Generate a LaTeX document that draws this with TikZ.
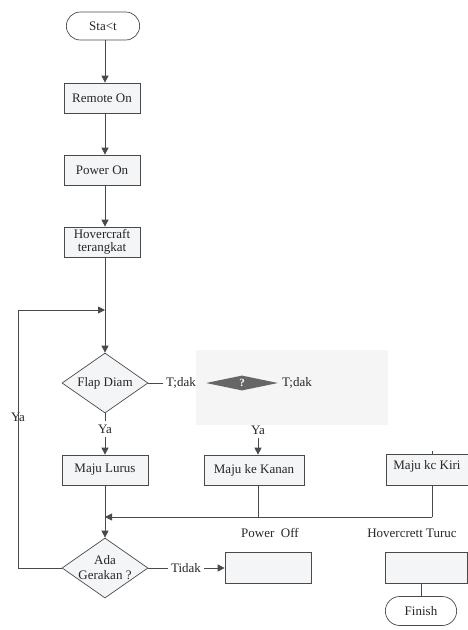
\documentclass[tikz,border=0pt]{standalone}
\usepackage{fontspec}
\setmainfont{Liberation Serif}
\usetikzlibrary{shapes.geometric,shapes.misc,arrows.meta}
\definecolor{ln}{HTML}{4A4A4A}
\definecolor{bx}{HTML}{F4F5F7}
\begin{document}
\begin{tikzpicture}[x=1pt,y=-1pt,
  every node/.style={font=\fontsize{13}{14}\selectfont,text=black!85},
  proc/.style={draw=ln,fill=bx,line width=0.7pt,minimum height=30pt,inner sep=1pt,align=center},
  term/.style={draw=ln,fill=white,line width=0.7pt,rounded rectangle,minimum height=28pt,minimum width=80pt},
  dec/.style={draw=ln,fill=bx,line width=0.7pt,diamond,aspect=1.42,minimum width=86pt,minimum height=60pt,inner sep=0pt},
  lab/.style={font=\fontsize{13}{14}\selectfont},
  conn/.style={draw=ln,line width=0.8pt},
  arr/.style={conn,-{Triangle[length=7pt,width=7pt]}}]
\useasboundingbox (0,0) rectangle (467,630);
% background patch
\fill[black!4] (196,350) rectangle (388,425);
% nodes
\node[term] (start) at (103,26) {Sta<t};
\node[proc,minimum width=76pt] (remote) at (102,98) {Remote On};
\node[proc,minimum width=76pt] (power) at (102,170) {Power On};
\node[proc,minimum width=76pt,minimum height=30pt,inner sep=0pt,font=\fontsize{13}{13}\selectfont] (hover) at (102,242) {Hovercraft\\terangkat};
\coordinate (join1) at (105,310);
\node[dec] (flap) at (105,383) {};
\node (flaptxt) at (flap) {Flap Diam};
\node[lab] (tdak1) at (181,383) {T;dak};
\node[diamond,fill=black!60,aspect=5,minimum width=72pt,minimum height=15pt,inner sep=0pt,font=\fontsize{11}{11}\selectfont\bfseries,text=white] (q) at (242,383) {?};
\node[lab] (tdak2) at (297,383) {T;dak};
\node[lab] (ya0) at (18,417) {Ya};
\node[lab] (ya1) at (105,429) {Ya};
\node[lab] (ya2) at (258,430) {Ya};
\node[proc,minimum width=86pt] (lurus) at (105,470) {Maju Lurus};
\node[proc,minimum width=100pt] (kanan) at (254,470) {Maju ke Kanan};
\node[proc,minimum width=82pt,minimum height=31pt,text depth=11pt] (kiri) at (427,470) {Maju kc Kiri};
\coordinate (m2) at (258,517);
\coordinate (m3) at (432,517);
\coordinate (m1) at (105,517);
\node[lab] (poff) at (270,533) {Power\enspace Off};
\node[lab] (hturun) at (412,533) {Hovercrett Turuc};
\node[dec] (ada) at (105,568) {};
\node[align=center,font=\fontsize{13}{15}\selectfont] (adatxt) at (ada) {Ada\\Gerakan ?};
\node[lab] (tidak) at (186,568) {Tidak};
\node[proc,minimum width=86pt,minimum height=31pt] (pbox) at (268,568) {};
\node[proc,minimum width=82pt,minimum height=31pt] (hbox) at (426,568) {};
\node[term,minimum width=78pt,minimum height=29pt] (finish) at (421,611) {Finish};
\coordinate (c1) at (18,568);
\coordinate (c2) at (18,310);
% connectors
\draw[arr] (start.south -| join1) -- (remote.north -| join1);
\draw[arr] (remote.south -| join1) -- (power.north -| join1);
\draw[arr] (power.south -| join1) -- (hover.north -| join1);
\draw[arr] (hover.south -| flap.north) -- (flap.north);
\draw[arr] (c2) -- (join1);
\draw[conn] (flap.east) -- (tdak1.west);
\draw[arr] (flap.south) -- (ya1.north) (ya1.south) -- (lurus.north);
\draw[arr] (ya2.south) -- (ya2.south |- kanan.north);
\draw[conn] (kiri.north -| m3) ++(0,-3) -- (kiri.north -| m3);
\draw[arr] (lurus) -- (ada);
\draw[conn] (kanan.south -| m2) -- (m2);
\draw[conn] (kiri.south -| m3) -- (m3);
\draw[arr] (m3) -- (m1);
\draw[conn] (ada.west) -- (c1) -- (c2);
\draw[conn] (ada.east) -- (tidak.west);
\draw[arr] (tidak.east) -- (pbox.west);
\draw[conn] (hbox.south -| finish.north) -- (finish.north);
\end{tikzpicture}
\end{document}
